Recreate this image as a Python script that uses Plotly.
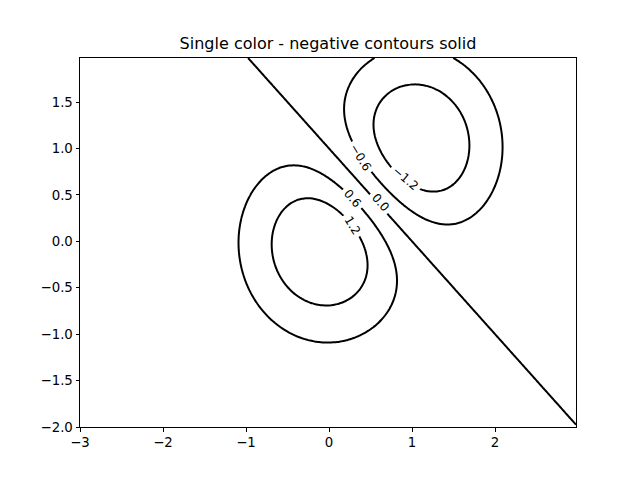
import numpy as np
import plotly.graph_objects as go

# Grid extent
x_start, x_stop, step = -3.0, 3.0, 0.025
y_start, y_stop = -2.0, 2.0
# Two Gaussian bumps (centres), difference scaled
bump_centres = [(0.0, 0.0), (1.0, 1.0)]
bump_signs = [1.0, -1.0]
amplitude = 2.0
levels = [-1.2, -0.6, 0.0, 0.6, 1.2]
x_ticks = [-3, -2, -1, 0, 1, 2]
y_ticks = [-2.0, -1.5, -1.0, -0.5, 0.0, 0.5, 1.0, 1.5]

# Inline contour labels
label_text = ["\u22120.6", "\u22121.2", "0.6", "0.0", "1.2"]
label_x = [0.373, 0.916, 0.277, 0.614, 0.277]
label_y = [0.906, 0.680, 0.465, 0.422, 0.175]
label_angle = [58, 40, 50, 49, 58]

x = np.arange(x_start, x_stop, step)
y = np.arange(y_start, y_stop, step)
X, Y = np.meshgrid(x, y)
Z = np.zeros_like(X)
for (cx, cy), s in zip(bump_centres, bump_signs):
    Z += s * np.exp(-(X - cx) ** 2 - (Y - cy) ** 2)
Z *= amplitude

fig = go.Figure(go.Contour(
    x=x, y=y, z=Z,
    autocontour=False,
    contours=dict(start=levels[0], end=levels[-1], size=0.6, coloring="lines",
                  showlabels=False),
    colorscale=[[0, "black"], [1, "black"]],
    line=dict(width=2),
    showscale=False,
    hoverinfo="skip",
))

for t, lx, ly, a in zip(label_text, label_x, label_y, label_angle):
    fig.add_annotation(x=lx, y=ly, text=t, showarrow=False, textangle=a,
                       bgcolor="white", borderpad=3,
                       font=dict(size=12, color="black", family="DejaVu Sans"))

axis_common = dict(showgrid=False, zeroline=False, showline=True, linecolor="black",
                   linewidth=1, mirror=True, ticks="outside", ticklen=3.5,
                   tickcolor="black", tickfont=dict(size=13.3, color="black", family="DejaVu Sans"))
fig.update_xaxes(range=[x[0], x[-1]], tickvals=x_ticks,
                 ticktext=[f"{v}".replace("-", "\u2212") for v in x_ticks], **axis_common)
fig.update_yaxes(range=[y[0], y[-1]], tickvals=y_ticks,
                 ticktext=[f"{v:.1f}".replace("-", "\u2212") for v in y_ticks], **axis_common)

fig.update_layout(
    width=640, height=480,
    margin=dict(l=72, r=72, t=50, b=61),
    paper_bgcolor="white", plot_bgcolor="white",
    title=dict(text="Single color - negative contours solid", x=(328 - 8) / 640, xanchor="center",
               y=1 - 35 / 480, yanchor="middle",
               font=dict(size=16, color="black", family="DejaVu Sans")),
    font=dict(family="DejaVu Sans", color="black"),
)

fig.write_html("out.html")
